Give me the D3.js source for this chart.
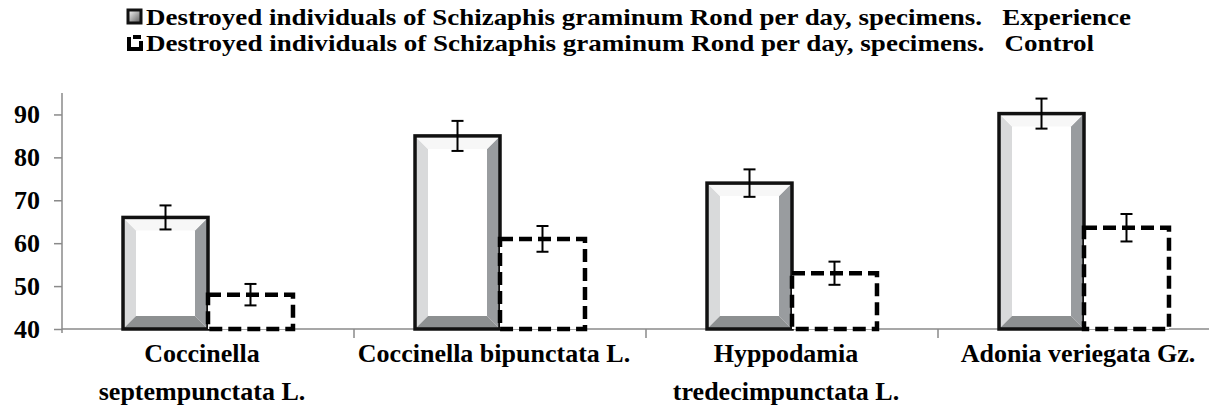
<!DOCTYPE html>
<html>
<head>
<meta charset="utf-8">
<script src="https://cdn.jsdelivr.net/npm/d3@7"></script>
<style>
  body { margin: 0; background: #ffffff; }
</style>
</head>
<body>
<script>
  // chart data
  const categories = [
    ["Coccinella", "septempunctata L."],
    ["Coccinella bipunctata L."],
    ["Hyppodamia", "tredecimpunctata L."],
    ["Adonia veriegata Gz."]
  ];
  const series = ["Experience", "Control"];
  const experience = [66, 85, 74, 90.2];
  const control = [48, 61, 53, 63.6];
  const expErr = [2.8, 3.5, 3.2, 3.5];
  const ctrlErr = [2.5, 3.0, 2.7, 3.2];
  const yTicks = [40, 50, 60, 70, 80, 90];
  const legendText = "Destroyed individuals of Schizaphis graminum Rond per day, specimens.";

  const FONT = "'Liberation Serif', 'Times New Roman', Times, 'DejaVu Serif', serif";

  const W = 1209, H = 412;
  const svg = d3.select("body").append("svg")
    .attr("width", W)
    .attr("height", H);

  // plot area (the right side is cut off in the original picture)
  const pLeft = 62, pTop = 93, pBottom = 329, step = 292;

  const x = d3.scaleBand()
    .domain(d3.range(categories.length))
    .range([pLeft, pLeft + step * categories.length])
    .padding(0);

  const xs = d3.scaleBand()
    .domain(series)
    .range([0, x.bandwidth()])
    .paddingInner(0)
    .paddingOuter(0.718);

  const y = d3.scaleLinear()
    .domain([40, 95])
    .range([pBottom, pTop]);

  // y axis
  const yAxis = svg.append("g")
    .attr("transform", `translate(${pLeft},0)`)
    .call(d3.axisLeft(y).tickValues(yTicks).tickSize(8).tickPadding(14));
  yAxis.attr("font-family", null);
  yAxis.select(".domain").attr("stroke", "#8a8a8a").attr("stroke-width", 1.5)
    .attr("d", `M0,${pTop}V${pBottom + 4}`);
  yAxis.selectAll(".tick line").attr("stroke", "#8a8a8a").attr("stroke-width", 1.5);
  yAxis.selectAll(".tick text")
    .attr("fill", "#000")
    .style("font-size", "26px")
    .style("font-family", FONT)
    .style("font-weight", "bold");

  // x axis line + category ticks
  svg.append("line")
    .attr("x1", pLeft).attr("x2", W)
    .attr("y1", pBottom).attr("y2", pBottom)
    .attr("stroke", "#8a8a8a").attr("stroke-width", 1.5);
  svg.selectAll(".cat-tick")
    .data(d3.range(1, categories.length))
    .join("line")
    .attr("x1", d => x(d)).attr("x2", d => x(d))
    .attr("y1", pBottom).attr("y2", pBottom + 9)
    .attr("stroke", "#8a8a8a").attr("stroke-width", 1.5);

  // experience bars with bevel
  const bev = 13;
  const expG = svg.selectAll(".exp")
    .data(experience)
    .join("g");

  expG.each(function(v, i) {
    const g = d3.select(this);
    const x0 = x(i) + xs("Experience"), x1 = x0 + xs.bandwidth();
    const y0 = y(v), y1 = y(40);
    const poly = (pts, c) => g.append("polygon")
      .attr("points", pts.map(p => p.join(",")).join(" "))
      .attr("fill", c);
    g.append("rect").attr("x", x0).attr("y", y0)
      .attr("width", x1 - x0).attr("height", y1 - y0).attr("fill", "#ffffff");
    poly([[x0, y0], [x0 + bev, y0 + bev], [x0 + bev, y1 - bev], [x0, y1]], "#d9dadb");
    poly([[x1, y0], [x1 - bev, y0 + bev], [x1 - bev, y1 - bev], [x1, y1]], "#999c9f");
    poly([[x0, y1], [x0 + bev, y1 - bev], [x1 - bev, y1 - bev], [x1, y1]], "#8d9091");
    poly([[x0, y0], [x0 + bev, y0 + bev], [x1 - bev, y0 + bev], [x1, y0]], "#f7f7f7");
    g.append("rect").attr("x", x0).attr("y", y0)
      .attr("width", x1 - x0).attr("height", y1 - y0)
      .attr("fill", "none").attr("stroke", "#111").attr("stroke-width", 3.5);
  });

  // control bars, dashed
  svg.selectAll(".ctrl")
    .data(control)
    .join("rect")
    .attr("x", (d, i) => x(i) + xs("Control"))
    .attr("y", d => y(d))
    .attr("width", xs.bandwidth())
    .attr("height", d => y(40) - y(d))
    .attr("fill", "#ffffff")
    .attr("stroke", "#000")
    .attr("stroke-width", 4.5)
    .attr("stroke-dasharray", "13,6");

  // error bars
  const errData = [];
  experience.forEach((v, i) => errData.push({ cx: x(i) + xs("Experience") + xs.bandwidth() / 2, v, e: expErr[i] }));
  control.forEach((v, i) => errData.push({ cx: x(i) + xs("Control") + xs.bandwidth() / 2, v, e: ctrlErr[i] }));

  const eg = svg.selectAll(".err").data(errData).join("g").attr("stroke", "#000").attr("stroke-width", 2);
  eg.append("line").attr("x1", d => d.cx).attr("x2", d => d.cx)
    .attr("y1", d => y(d.v + d.e)).attr("y2", d => y(d.v - d.e));
  eg.append("line").attr("x1", d => d.cx - 6).attr("x2", d => d.cx + 6)
    .attr("y1", d => y(d.v + d.e)).attr("y2", d => y(d.v + d.e));
  eg.append("line").attr("x1", d => d.cx - 6).attr("x2", d => d.cx + 6)
    .attr("y1", d => y(d.v - d.e)).attr("y2", d => y(d.v - d.e));

  // category labels
  const lab = svg.selectAll(".cat")
    .data(categories)
    .join("text")
    .attr("text-anchor", "middle")
    .style("font-family", FONT)
    .style("font-weight", "bold")
    .style("font-size", "26px")
    .attr("fill", "#000");
  lab.selectAll("tspan")
    .data((d, i) => d.map(s => ({ s, i })))
    .join("tspan")
    .attr("x", d => x(d.i) + x.bandwidth() / 2 - 6)
    .attr("y", (d, j) => 362 + j * 38)
    .text(d => d.s);

  // legend
  const leg = svg.append("g");
  // experience marker
  const grad = svg.append("defs").append("linearGradient")
    .attr("id", "mk").attr("x1", 0).attr("y1", 0).attr("x2", 1).attr("y2", 1);
  grad.append("stop").attr("offset", 0).attr("stop-color", "#ffffff");
  grad.append("stop").attr("offset", 1).attr("stop-color", "#555");
  leg.append("rect").attr("x", 128).attr("y", 10).attr("width", 13).attr("height", 13)
    .attr("fill", "url(#mk)").attr("stroke", "#111").attr("stroke-width", 3);
  // control marker
  leg.append("path")
    .attr("d", "M129,37 V49 H141 V41 M133,37 H141")
    .attr("fill", "none").attr("stroke", "#000").attr("stroke-width", 4);

  const legLines = [
    { t: legendText + "   " + series[0], y: 25, len: 985 },
    { t: legendText + "   " + series[1], y: 51, len: 948 }
  ];
  leg.selectAll("text")
    .data(legLines)
    .join("text")
    .attr("x", 146)
    .attr("y", d => d.y)
    .style("font-family", FONT)
    .style("font-weight", "bold")
    .style("font-size", "24px")
    .style("white-space", "pre")
    .attr("textLength", d => d.len)
    .attr("lengthAdjust", "spacingAndGlyphs")
    .text(d => d.t);
</script>
</body>
</html>
